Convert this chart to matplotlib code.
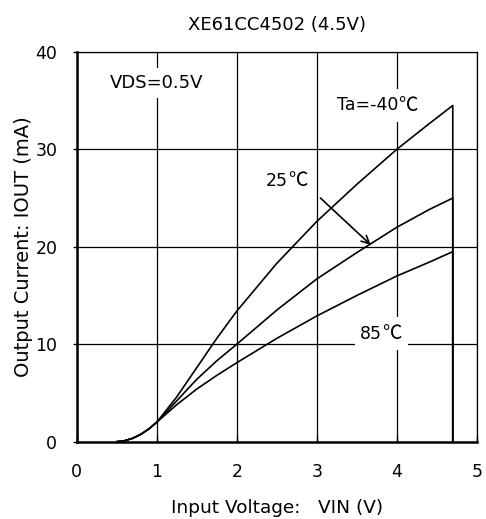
import numpy as np
import matplotlib
matplotlib.use("Agg")
import matplotlib.pyplot as plt

FONT = ["DejaVu Sans", "Noto Sans CJK JP"]
CJK = ["Noto Sans CJK JP", "DejaVu Sans"]
plt.rcParams["font.family"] = FONT

# Input voltage (V) sample points
vin = [0.5, 0.6, 0.7, 0.8, 0.9, 1.0, 1.25, 1.5, 1.75, 2.0, 2.5, 3.0, 3.5, 4.0, 4.4, 4.7]

# Output current (mA) per ambient temperature
iout_m40 = [0.0, 0.1, 0.35, 0.75, 1.3, 2.0, 4.6, 7.6, 10.6, 13.4, 18.3, 22.6, 26.4, 30.0, 32.6, 34.5]
iout_25 = [0.0, 0.1, 0.35, 0.75, 1.3, 2.0, 4.2, 6.4, 8.3, 10.0, 13.5, 16.7, 19.4, 22.0, 23.8, 25.0]
iout_85 = [0.0, 0.1, 0.35, 0.75, 1.3, 2.0, 3.8, 5.4, 6.8, 8.1, 10.6, 12.9, 15.0, 17.0, 18.4, 19.5]

v_end = 4.7

fig = plt.figure(figsize=(4.86, 5.19), dpi=100)
ax = fig.add_axes([0.158, 0.149, 0.823, 0.751])

for iout in (iout_m40, iout_25, iout_85):
    xs = list(vin) + [v_end]
    ys = list(iout) + [0.0]
    ax.plot(xs, ys, color="black", lw=1.2, zorder=3)

ax.set_xlim(0, 5)
ax.set_ylim(0, 40)
ax.set_xticks(range(0, 6))
ax.set_yticks(range(0, 41, 10))
ax.grid(True, color="black", lw=0.9)
ax.set_axisbelow(True)

for side in ("top", "right"):
    ax.spines[side].set_linewidth(0.9)
for side in ("left", "bottom"):
    ax.spines[side].set_linewidth(1.8)

ax.tick_params(axis="y", direction="out", length=3, width=1, labelsize=12.5, pad=11)
ax.tick_params(axis="x", direction="in", length=4, width=1, labelsize=12.5, pad=15)

ax.set_title("XE61CC4502 (4.5V)", fontsize=13, pad=16)
ax.set_xlabel("Input Voltage:   VIN (V)", fontsize=13.3, labelpad=13)
ax.set_ylabel("Output Current: IOUT (mA)", fontsize=14, labelpad=2)

box = dict(facecolor="white", edgecolor="none", pad=4)


def temp_label(x, y, num):
    # white boxes behind number and CJK degree-Celsius sign, then the number on top
    ax.text(x, y, num, fontsize=12.5, color="none", ha="right", va="center",
            bbox=box, zorder=4)
    ax.text(x, y, "\u2103", fontsize=14, family=CJK, ha="left", va="center",
            bbox=box, zorder=4)
    ax.text(x, y, num, fontsize=12.5, ha="right", va="center", zorder=5)


ax.text(1.0, 36.8, "VDS=0.5V", fontsize=13, ha="center", va="center", bbox=box, zorder=4)
temp_label(4.02, 34.5, "Ta=-40")
temp_label(2.64, 26.8, "25")
temp_label(3.82, 11.1, "85")

ax.annotate("", xy=(3.7, 20.0), xytext=(3.02, 25.2),
            arrowprops=dict(arrowstyle="->", color="black", lw=1.2, mutation_scale=14),
            zorder=5)

fig.savefig("out.png", dpi=100)
